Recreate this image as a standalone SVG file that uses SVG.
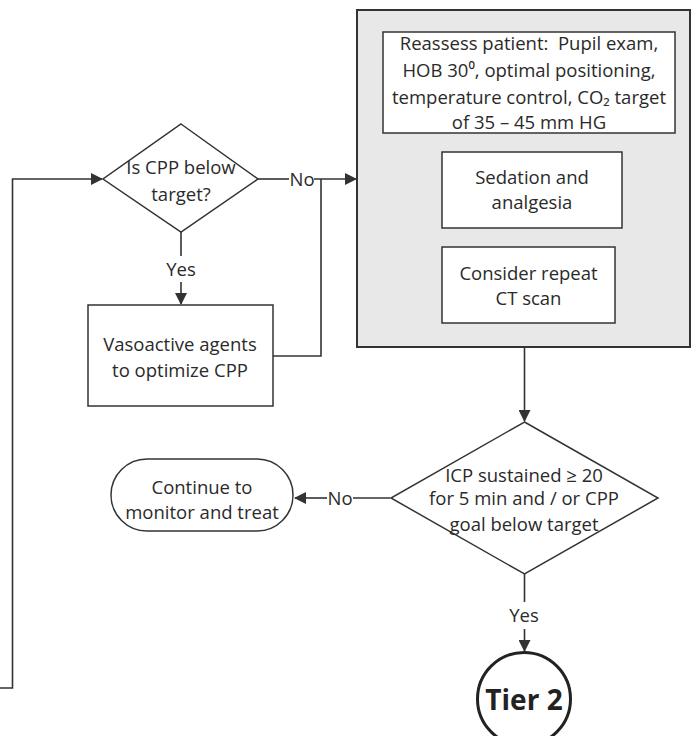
<svg xmlns="http://www.w3.org/2000/svg" width="692" height="736" viewBox="0 0 692 736">
<defs>
<style>
.t{font-family:"Open Sans","Noto Sans","DejaVu Sans",sans-serif;font-size:18.5px;fill:#2a2a2a;text-anchor:middle}
.b{fill:#fff;stroke:#333;stroke-width:1.5}
.c{fill:none;stroke:#333;stroke-width:1.6}
</style>
<marker id="ah" markerWidth="12" markerHeight="12" refX="11" refY="6" orient="auto" markerUnits="userSpaceOnUse">
<path d="M0,0 L12,6 L0,12 Z" fill="#333"/>
</marker>
</defs>
<rect width="692" height="736" fill="#fff"/>

<g id="connectors">
<path class="c" d="M0,688 H12.5 V179 H102" marker-end="url(#ah)"/>
<path class="c" d="M258,179 H289"/>
<path class="c" d="M314,179 H356" marker-end="url(#ah)"/>
<path class="c" d="M273,356 H321 V179"/>
<path class="c" d="M181,232 V256"/>
<path class="c" d="M181,282 V304" marker-end="url(#ah)"/>
<path class="c" d="M524.5,347 V421" marker-end="url(#ah)"/>
<path class="c" d="M390,498 H353"/>
<path class="c" d="M327,498 H295" marker-end="url(#ah)"/>
<path class="c" d="M524.5,574 V602"/>
<path class="c" d="M524.5,629 V651" marker-end="url(#ah)"/>
<text class="t" x="302" y="186">No</text>
<text class="t" x="181" y="276">Yes</text>
<text class="t" x="340" y="505">No</text>
<text class="t" x="524" y="622">Yes</text>
</g>

<g id="cpp-decision">
<polygon class="b" points="181,124 258,179 181,232 103,179"/>
<text class="t" x="181" y="174">Is CPP below</text>
<text class="t" x="181" y="201">target?</text>
</g>

<g id="vasoactive">
<rect class="b" x="88" y="305" width="185" height="101"/>
<text class="t" x="180" y="351">Vasoactive agents</text>
<text class="t" x="180" y="377">to optimize CPP</text>
</g>

<g id="tier1-group">
<rect x="357" y="10" width="333" height="337" fill="#e8e8e8" stroke="#333" stroke-width="2"/>
</g>

<g id="reassess">
<rect class="b" x="383" y="32" width="292" height="101"/>
<text class="t" x="529" y="50" xml:space="preserve">Reassess patient:  Pupil exam,</text>
<text class="t" x="529" y="77">HOB 30⁰, optimal positioning,</text>
<text class="t" x="529" y="104">temperature control, CO₂ target</text>
<text class="t" x="529" y="129">of 35 – 45 mm HG</text>
</g>

<g id="sedation">
<rect class="b" x="442" y="152" width="180" height="76"/>
<text class="t" x="532" y="184">Sedation and</text>
<text class="t" x="532" y="209">analgesia</text>
</g>

<g id="repeat-ct">
<rect class="b" x="442" y="247" width="173" height="76"/>
<text class="t" x="528.5" y="280">Consider repeat</text>
<text class="t" x="528.5" y="305">CT scan</text>
</g>

<g id="icp-decision">
<polygon class="b" points="524.5,422 658,498 524.5,574 391,498"/>
<text class="t" x="524" y="482">ICP sustained ≥ 20</text>
<text class="t" x="524" y="505">for 5 min and / or CPP</text>
<text class="t" x="524" y="531">goal below target</text>
</g>

<g id="continue">
<rect class="b" x="111" y="459" width="182" height="72" rx="36" ry="36"/>
<text class="t" x="202" y="494">Continue to</text>
<text class="t" x="202" y="519">monitor and treat</text>
</g>

<g id="tier2">
<circle cx="524" cy="699" r="46.5" fill="#fff" stroke="#222" stroke-width="3"/>
<text x="524" y="710" style="font-family:'Open Sans','Noto Sans',sans-serif;font-size:28px;font-weight:bold;fill:#222;text-anchor:middle">Tier 2</text>
</g>
</svg>
